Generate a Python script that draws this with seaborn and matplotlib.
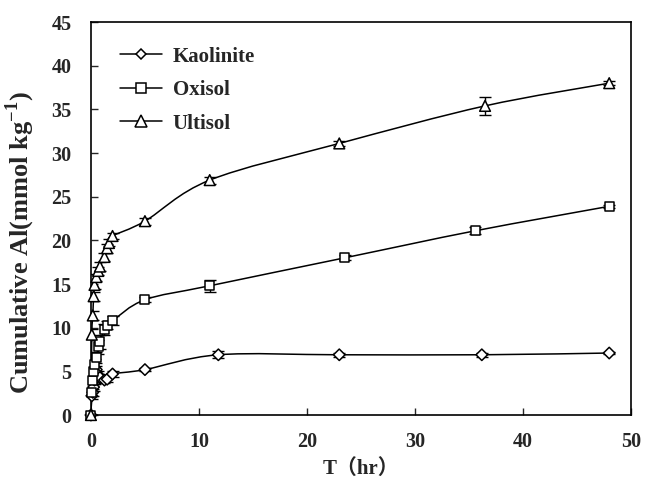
import numpy as np
import pandas as pd
import matplotlib
matplotlib.use('Agg')
import matplotlib.pyplot as plt
import seaborn as sns
from matplotlib.path import Path
from matplotlib.patches import PathPatch
from matplotlib.lines import Line2D

# values
kao_t = [0, 0.08, 0.17, 0.25, 0.33, 0.5, 0.67, 0.83, 1.25, 1.5, 2.0, 5, 11.8, 23, 36.2, 48]
kao_al = [0, 2.2, 2.6, 3.2, 4.0, 5.2, 4.6, 4.3, 4.0, 4.1, 4.7, 5.2, 6.9, 6.9, 6.9, 7.1]
kao_err = [0, 0.4, 0.4, 0.4, 0.4, 0.4, 0.4, 0.3, 0.3, 0.3, 0.3, 0.2, 0.4, 0.2, 0.2, 0.1]

oxi_t = [0, 0.08, 0.17, 0.25, 0.33, 0.5, 0.67, 0.83, 1.25, 1.5, 2.0, 5, 11, 23.5, 35.6, 48]
oxi_al = [0, 2.6, 4.0, 5.0, 5.8, 6.6, 7.8, 8.4, 9.8, 10.3, 10.8, 13.2, 14.8, 18.0, 21.1, 23.9]
oxi_err = [0, 0.4, 0.5, 0.5, 0.6, 0.6, 0.8, 0.8, 0.6, 0.5, 0.5, 0.3, 0.7, 0.3, 0.4, 0.2]

ult_t = [0, 0.08, 0.17, 0.25, 0.33, 0.5, 0.67, 0.83, 1.25, 1.5, 1.67, 2.0, 5, 11, 23, 36.5, 48]
ult_al = [0, 9.2, 11.4, 13.6, 14.9, 15.8, 16.5, 17.0, 18.1, 19.1, 19.7, 20.5, 22.2, 26.9, 31.1, 35.4, 38.0]
ult_err = [0, 0.6, 0.5, 0.5, 0.5, 0.4, 0.5, 0.5, 0.5, 0.5, 0.4, 0.4, 0.4, 0.4, 0.3, 1.0, 0.2]

names = ['Kaolinite', 'Oxisol', 'Ultisol']
markers = {'Kaolinite': 'D', 'Oxisol': 's', 'Ultisol': '^'}
msizes = {'Kaolinite': 34, 'Oxisol': 42, 'Ultisol': 60}

df = pd.concat([
    pd.DataFrame({'soil': 'Kaolinite', 't': kao_t, 'al': kao_al, 'err': kao_err}),
    pd.DataFrame({'soil': 'Oxisol', 't': oxi_t, 'al': oxi_al, 'err': oxi_err}),
    pd.DataFrame({'soil': 'Ultisol', 't': ult_t, 'al': ult_al, 'err': ult_err}),
])

sns.set_theme(style='ticks')
plt.rcParams['font.family'] = ['Liberation Serif', 'Noto Sans CJK SC']
plt.rcParams['font.weight'] = 'bold'
plt.rcParams['mathtext.fontset'] = 'custom'
plt.rcParams['mathtext.rm'] = 'Liberation Serif:bold'
plt.rcParams['mathtext.bf'] = 'Liberation Serif:bold'


def smooth_path(x, y):
    # Excel-like smoothed line: Catmull-Rom segments as cubic Bezier curves
    pts = np.column_stack([x, y]).astype(float)
    n = len(pts)
    verts = [pts[0]]
    codes = [Path.MOVETO]
    for i in range(n - 1):
        p0 = pts[max(i - 1, 0)]
        p1 = pts[i]
        p2 = pts[i + 1]
        p3 = pts[min(i + 2, n - 1)]
        verts += [p1 + (p2 - p0) / 6, p2 - (p3 - p1) / 6, p2]
        codes += [Path.CURVE4] * 3
    return Path(verts, codes)


fig, ax = plt.subplots(figsize=(6.45, 4.9), dpi=100)
fig.subplots_adjust(left=0.141, right=0.978, bottom=0.153, top=0.955)

for name in names:
    d = df[df['soil'] == name]
    ax.add_patch(PathPatch(smooth_path(d['t'], d['al']), fill=False,
                           edgecolor='black', lw=1.1, zorder=2))
    ax.errorbar(d['t'], d['al'], yerr=d['err'], fmt='none', ecolor='black',
                elinewidth=1.0, capsize=4, capthick=1.0, zorder=3)

sns.scatterplot(data=df, x='t', y='al', hue='soil', style='soil',
                markers=markers, palette=['white'] * 3, size='soil',
                sizes=msizes, edgecolor='black', linewidth=1.1,
                legend=False, zorder=4, clip_on=False, ax=ax)

ax.set_xlim(0, 50)
ax.set_ylim(0, 45)
ax.set_xticks(range(0, 51, 10))
ax.set_yticks(range(0, 46, 5))
ax.tick_params(direction='in', length=5, width=1, labelsize=14.5,
               top=False, right=False)
ax.tick_params(axis='x', pad=12)
ax.tick_params(axis='y', pad=14)
for lab in ax.get_xticklabels() + ax.get_yticklabels():
    lab.set_fontweight('bold')
for s in ax.spines.values():
    s.set_linewidth(1.2)
    s.set_color('black')

ax.set_xlabel('T（hr）', fontsize=15, fontweight='bold', labelpad=5)
ax.set_ylabel(r'Cumulative Al(mmol kg$^{-1}$)', fontsize=19,
              fontweight='bold')
ax.yaxis.set_label_coords(-0.1, 0.44)

handles = [Line2D([], [], color='black', lw=1.1, marker=markers[n],
                  markersize={'Kaolinite': 5.5, 'Oxisol': 6.5, 'Ultisol': 8}[n],
                  markerfacecolor='white', markeredgecolor='black',
                  markeredgewidth=1.1) for n in names]
ax.legend(handles, names, loc='upper left', frameon=False, handlelength=2.0,
          handletextpad=0.5, prop={'weight': 'bold', 'size': 15},
          labelspacing=0.65, bbox_to_anchor=(0.02, 0.985))

fig.savefig('out.png', dpi=100)
